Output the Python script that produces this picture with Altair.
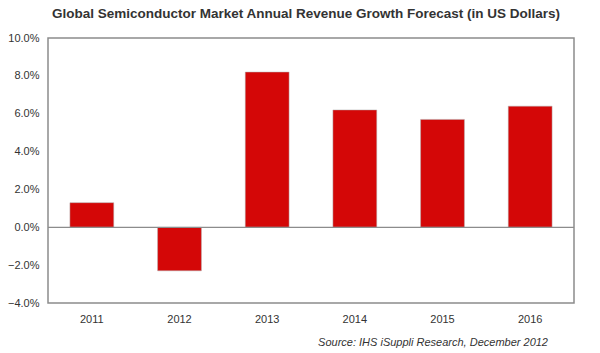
import altair as alt
import pandas as pd

years = ["2011", "2012", "2013", "2014", "2015", "2016"]
growth = [0.013, -0.023, 0.082, 0.062, 0.057, 0.064]
y_ticks = [-0.04, -0.02, 0.0, 0.02, 0.04, 0.06, 0.08, 0.10]
title_text = "Global Semiconductor Market Annual Revenue Growth Forecast (in US Dollars)"
source_text = "Source: IHS iSuppli Research, December 2012"

df = pd.DataFrame({"year": years, "growth": growth})
W, H = 526, 265
FONT = "Liberation Sans"

y_axis = alt.Axis(values=y_ticks, format=".1%", grid=False, ticks=False, domain=False,
                  labelOverlap=False, labelFlush=False, labelBound=False,
                  labelPadding=9, labelFont=FONT, labelFontSize=11, labelColor="#333333")
y_scale = alt.Scale(domain=[-0.04, 0.10], nice=False)

bars = alt.Chart(df).mark_bar(color="#d40707", stroke="#b0b0b0", strokeWidth=0.5).encode(
    x=alt.X("year:N", sort=years, title=None,
            scale=alt.Scale(paddingInner=0.5, paddingOuter=0.25),
            axis=alt.Axis(labelAngle=0, ticks=False, domain=False, labelPadding=10,
                          labelOverlap=False,
                          labelFont=FONT, labelFontSize=11, labelColor="#333333")),
    y=alt.Y("growth:Q", title=None, scale=y_scale, axis=y_axis),
)

zero = alt.Chart(pd.DataFrame({"z": [0.0]})).mark_rule(color="#8c8c8c", strokeWidth=1.2).encode(
    y=alt.Y("z:Q", title=None, scale=y_scale, axis=y_axis)
)

source = alt.Chart(pd.DataFrame({"t": [source_text]})).mark_text(
    font=FONT, fontSize=11, fontStyle="italic", color="#333333", align="right", baseline="middle"
).encode(text="t:N", x=alt.value(500), y=alt.value(H + 40))

chart = alt.layer(bars, zero, source).properties(
    width=W, height=H,
    title=alt.TitleParams(title_text, font=FONT, fontSize=13.5, fontWeight="bold", color="#333333",
                          anchor="middle", offset=12, dx=-5),
    padding={"left": 48, "top": 38, "right": 26, "bottom": 50},
    autosize=alt.AutoSizeParams(type="none"),
    background="white",
).configure_view(stroke="#8c8c8c", strokeWidth=1.5).configure_axis(
    labelOverlap=False, labelFlush=False
)

chart.save("out.html", embed_options={"renderer": "svg", "actions": False})
